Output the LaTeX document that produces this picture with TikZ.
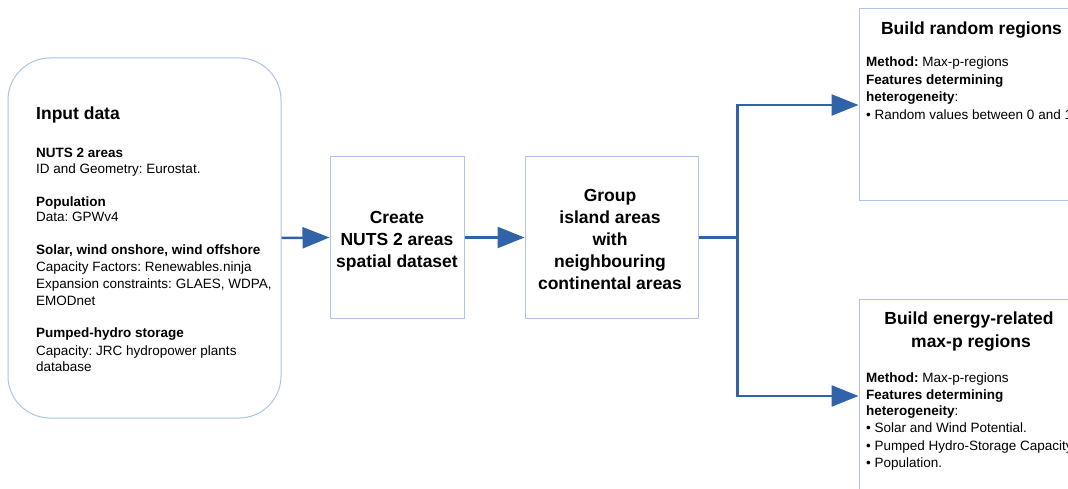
\documentclass[tikz,border=0pt]{standalone}
\usepackage{fontspec}
\setmainfont{Liberation Sans}
\usetikzlibrary{arrows.meta}
\frenchspacing
\definecolor{boxline}{HTML}{AEC5E8}
\definecolor{arrowblue}{HTML}{3163A8}
\tikzset{
  box/.style={draw=boxline, line width=1pt, fill=white, inner sep=0pt},
  conn/.style={draw=arrowblue, line width=2.5pt},
  arr/.style={conn, -{Triangle[length=27pt,width=21pt]}},
  body/.style={inner sep=0pt, anchor=base west, font=\fontsize{13.5}{16}\selectfont},
  bhead/.style={body, font=\fontsize{13.5}{16}\selectfont\bfseries},
  title/.style={inner sep=0pt, anchor=base, font=\fontsize{17.5}{21}\selectfont\bfseries},
  titlew/.style={title, anchor=base west},
}
\begin{document}
\begin{tikzpicture}[x=1pt,y=-1pt]
\useasboundingbox (0,0) rectangle (1068,489);
\fill[white] (0,0) rectangle (1068,489);
\clip (0,0) rectangle (1068,489);
% boxes
\node[box, rounded corners=42pt, minimum width=273pt, minimum height=360pt] (input) at (144.5,238) {};
\node[box, minimum width=134pt, minimum height=161pt] (create) at (397,237.5) {};
\node[box, minimum width=173pt, minimum height=161pt] (group) at (611.5,237.5) {};
\node[box, minimum width=226pt, minimum height=192pt] (rand) at (972,105) {};
\node[box, minimum width=226pt, minimum height=221pt] (energy) at (972,409.5) {};
% connectors
\coordinate (split) at (737.5,237.5);
\draw[arr] (input.east) -- (create.west);
\draw[arr] (create.east) -- (group.west);
\draw[conn] (group.east) -- (split);
\draw[arr] (split) |- (rand.west);
\draw[arr] (split) |- ([yshift=13.5pt]energy.west);
% input text
\node[titlew] (t0) at (36,119.3) {Input data};
\node[bhead] (t1) at (36,157.5) {NUTS 2 areas};
\node[body] (t2) at (36,174) {ID and Geometry: Eurostat.};
\node[bhead] (t3) at (36,206.5) {Population};
\node[body] (t4) at (36,221.8) {Data: GPWv4};
\node[bhead] (t5) at (36,254.8) {Solar, wind onshore, wind offshore};
\node[body] (t6) at (36,271.8) {Capacity Factors: Renewables.ninja};
\node[body] (t7) at (36,288.8) {Expansion constraints: GLAES, WDPA,};
\node[body] (t8) at (36,305.5) {EMODnet};
\node[bhead] (t9) at (36,337.8) {Pumped-hydro storage};
\node[body] (t10) at (36,355) {Capacity: JRC hydropower plants};
\node[body] (t11) at (36,371.5) {database};
% create text
\node[title] (c1) at (397,223) {Create};
\node[title] (c2) at (397,245.3) {NUTS 2 areas};
\node[title] (c3) at (397,267.3) {spatial dataset};
% group text
\node[title] (g1) at (610,201.3) {Group};
\node[title] (g2) at (610,223) {island areas};
\node[title] (g3) at (610,245.3) {with};
\node[title] (g4) at (610,267.3) {neighbouring};
\node[title] (g5) at (610,289.6) {continental areas};
% random regions text
\node[title] (r0) at (971.5,34.3) {Build random regions};
\node[body] (r1) at (866,67) {\textbf{Method:} Max-p-regions};
\node[bhead] (r2) at (866,84.6) {Features determining};
\node[body] (r3) at (866,102) {\textbf{heterogeneity}:};
\node[body] (r4) at (866,119.6) {• Random values between 0 and 1};
% energy regions text
\node[title] (e0) at (969,324.6) {Build energy-related};
\node[title] (e00) at (971,347.3) {max-p regions};
\node[body] (e1) at (866,382.5) {\textbf{Method:} Max-p-regions};
\node[bhead] (e2) at (866,399.2) {Features determining};
\node[body] (e3) at (866,415.9) {\textbf{heterogeneity}:};
\node[body] (e4) at (866,432.6) {• Solar and Wind Potential.};
\node[body] (e5) at (866,450.3) {• Pumped Hydro-Storage Capacity};
\node[body] (e6) at (866,467.3) {• Population.};
\end{tikzpicture}
\end{document}
